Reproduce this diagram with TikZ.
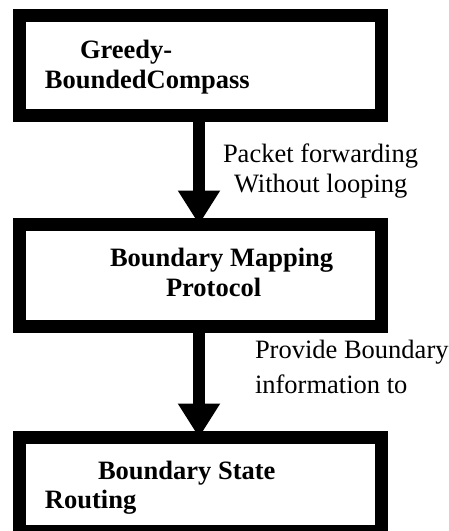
\documentclass[tikz,border=0pt]{standalone}
\usepackage{fontspec}
\setmainfont{Liberation Serif}
\usetikzlibrary{arrows.meta}
\tikzset{
  box/.style={draw=black, line width=13pt, fill=white, minimum width=362pt, inner sep=0pt, outer sep=0pt},
  lbl/.style={anchor=base west, inner sep=0pt, outer sep=0pt, font=\fontsize{26.5}{30}\selectfont},
  blbl/.style={lbl, font=\fontsize{26.5}{30}\selectfont\bfseries},
  flow/.style={line width=12pt, -{Triangle[width=40pt,length=34pt]}}
}
\begin{document}
\begin{tikzpicture}[x=1pt,y=-1pt]
\useasboundingbox (0,0) rectangle (449,531);
\fill[white] (0,0) rectangle (449,531);
\clip (0,0) rectangle (449,531);
% boxes
\node[box, minimum height=100pt] (b1) at (200.5,65.5) {};
\node[box, minimum height=101.5pt] (b2) at (200.5,275.25) {};
\node[box, minimum height=94pt] (b3) at (200.5,484.5) {};
% box texts
\node[blbl] (t1a) at (80,58) {Greedy-};
\node[blbl] (t1b) at (45,88.5) {BoundedCompass};
\node[blbl] (t2a) at (110,266) {Boundary Mapping};
\node[blbl] (t2b) at (166,296) {Protocol};
\node[blbl] (t3a) at (98,479) {Boundary State};
\node[blbl] (t3b) at (45,508) {Routing};
% arrows
\draw[flow] ([xshift=-1.5pt]b1.south) -- ([xshift=-1.5pt]b2.north);
\draw[flow] ([xshift=-1.5pt]b2.south) -- ([xshift=-1.5pt]b3.north);
% labels
\node[lbl] (l1a) at (223,162) {Packet forwarding};
\node[lbl] (l1b) at (234,192) {Without looping};
\node[lbl] (l2a) at (255,358) {Provide Boundary};
\node[lbl] (l2b) at (255,393) {information to};
\end{tikzpicture}
\end{document}
